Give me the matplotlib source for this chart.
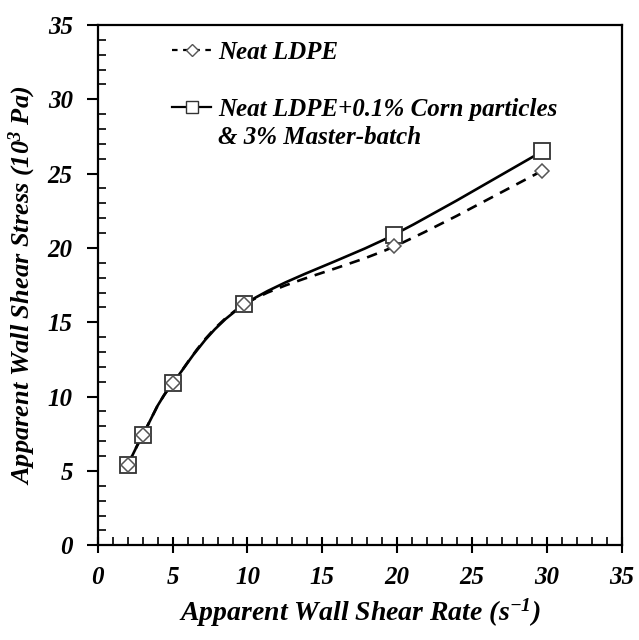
import numpy as np
import matplotlib
matplotlib.use("Agg")
import matplotlib.pyplot as plt
from matplotlib.path import Path
from matplotlib.patches import PathPatch
from matplotlib.lines import Line2D
from matplotlib.ticker import MultipleLocator

# data
shear_rate = [2.0, 3.0, 5.0, 9.8, 19.8, 29.7]
stress_neat = [5.4, 7.4, 10.9, 16.2, 20.1, 25.2]
stress_corn = [5.4, 7.4, 10.9, 16.2, 20.9, 26.5]
label_neat = "Neat LDPE"
label_corn = "Neat LDPE+0.1% Corn particles"
label_corn_2 = "& 3% Master-batch"

plt.rcParams["font.family"] = ["Liberation Serif", "DejaVu Serif"]
plt.rcParams["font.weight"] = "bold"
plt.rcParams["font.style"] = "italic"
plt.rcParams["axes.labelweight"] = "bold"
plt.rcParams["mathtext.fontset"] = "custom"
plt.rcParams["mathtext.rm"] = "Liberation Serif:bold:italic"
plt.rcParams["mathtext.it"] = "Liberation Serif:bold:italic"


def smooth_path(x, y):
    # Excel-like smoothed line: cubic bezier through the points
    pts = np.column_stack([x, y])
    n = len(pts)
    verts = [pts[0]]
    codes = [Path.MOVETO]
    for i in range(n - 1):
        p0 = pts[i - 1] if i > 0 else pts[i]
        p1 = pts[i]
        p2 = pts[i + 1]
        p3 = pts[i + 2] if i + 2 < n else pts[i + 1]
        c1 = p1 + (p2 - p0) / 6.0
        c2 = p2 - (p3 - p1) / 6.0
        verts += [c1, c2, p2]
        codes += [Path.CURVE4] * 3
    return Path(verts, codes)


fig = plt.figure(figsize=(6.39, 6.40), dpi=100)
ax = fig.add_axes([0.153, 0.148, 0.820, 0.813])

ax.add_patch(PathPatch(smooth_path(shear_rate, stress_neat), facecolor="none",
                       edgecolor="black", lw=1.9, linestyle=(0, (4, 3)), zorder=2))
ax.add_patch(PathPatch(smooth_path(shear_rate, stress_corn), facecolor="none",
                       edgecolor="black", lw=1.9, zorder=2))
ax.plot(shear_rate, stress_corn, linestyle="none", marker="s", ms=11,
        mfc="white", mec="#333333", mew=1.3, zorder=3)
ax.plot(shear_rate, stress_neat, linestyle="none", marker="D", ms=7.5,
        mfc="white", mec="#555555", mew=1.1, zorder=4)

ax.set_xlim(0, 35)
ax.set_ylim(0, 35)
ax.xaxis.set_major_locator(MultipleLocator(5))
ax.yaxis.set_major_locator(MultipleLocator(5))
ax.xaxis.set_minor_locator(MultipleLocator(1))
ax.yaxis.set_minor_locator(MultipleLocator(1))
ax.tick_params(axis="x", which="major", direction="inout", length=12, width=1.5,
               pad=9, labelsize=18)
ax.tick_params(axis="y", which="major", direction="out", length=8, width=1.5,
               pad=10, labelsize=18)
ax.tick_params(which="minor", direction="in", length=6, width=1.2)
for s in ax.spines.values():
    s.set_linewidth(1.6)

ax.set_xlabel("Apparent Wall Shear Rate (s$^{-1}$)", fontsize=20, labelpad=5)
ax.set_ylabel("Apparent Wall Shear Stress (10$^{3}$ Pa)", fontsize=19, labelpad=7)

handles = [
    Line2D([], [], color="black", lw=1.6, linestyle=(0, (2.5, 2.5)), marker="D", ms=6,
           mfc="white", mec="#555555"),
    Line2D([], [], color="black", lw=1.6, marker="s", ms=9, mfc="white", mec="#333333"),
]
ax.legend(handles, [label_neat, label_corn], loc="upper left",
          bbox_to_anchor=(0.099, 1.012), frameon=False, fontsize=18,
          handlelength=1.55, handletextpad=0.3, labelspacing=1.35)
ax.text(0.229, 0.783, label_corn_2, transform=ax.transAxes, fontsize=18,
        va="center", ha="left")

fig.savefig("out.png", dpi=100)
